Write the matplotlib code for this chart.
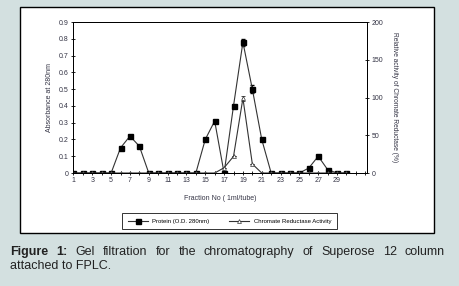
import matplotlib.pyplot as plt
from matplotlib.patches import Rectangle

plt.rcParams['font.family'] = ['Liberation Sans', 'DejaVu Sans']

# Datos
fracciones = list(range(1, 31))
proteina = [0, 0, 0, 0, 0, 0.15, 0.22, 0.16, 0, 0,
            0, 0, 0, 0, 0.20, 0.31, 0, 0.40, 0.78, 0.50,
            0.20, 0, 0, 0, 0, 0.03, 0.10, 0.02, 0, 0]
err_proteina = [0] * 18 + [0.02, 0.025, 0.01] + [0] * 9
actividad = [0] * 16 + [7, 22, 99, 12] + [0] * 10
err_actividad = [0] * 18 + [3] + [0] * 11

xticks = list(range(1, 33))
xlabels = [str(v) if v % 2 == 1 and v < 30 else '' for v in xticks]
yticks_izq = [0, 0.1, 0.2, 0.3, 0.4, 0.5, 0.6, 0.7, 0.8, 0.9]
yticks_der = [0, 50, 100, 150, 200]

fig = plt.figure(figsize=(4.59, 2.86), dpi=100)
fig.patch.set_facecolor('#d3e0e0')

# Recuadro blanco del grafico
caja = Rectangle((0.044, 0.185), 0.902, 0.79, transform=fig.transFigure,
                 facecolor='white', edgecolor='black', linewidth=1.0, zorder=-10)
fig.add_artist(caja)

ax = fig.add_axes([0.159, 0.395, 0.641, 0.528])
ax.set_facecolor('none')
ax2 = ax.twinx()

color_linea = '#333333'
l1 = ax.errorbar(fracciones, proteina, yerr=err_proteina, color=color_linea, linewidth=0.8,
                 marker='s', markersize=3.6, markerfacecolor='black', markeredgecolor='black',
                 ecolor='black', elinewidth=0.6, capsize=1.5)
l2 = ax2.errorbar(fracciones, actividad, yerr=err_actividad, color=color_linea, linewidth=0.8,
                  marker='^', markersize=2.8, markerfacecolor='white', markeredgecolor='#333333',
                  markeredgewidth=0.5, ecolor='black', elinewidth=0.6, capsize=1.5)

ax.set_xlim(0.95, 32.2)
ax.set_ylim(0, 0.9)
ax2.set_ylim(0, 200)
ax.set_xticks(xticks)
ax.set_xticklabels(xlabels)
ax.set_yticks(yticks_izq)
ax.set_yticklabels(['0'] + [f'{v:.1f}' for v in yticks_izq[1:]])
ax2.set_yticks(yticks_der)

for a in (ax, ax2):
    a.tick_params(direction='inout', length=3, width=0.6, labelsize=5,
                  colors='black', labelcolor='#333344', pad=1.5)
    for s in a.spines.values():
        s.set_linewidth(0.7)

ax.set_xlabel('Fraction No ( 1ml/tube)', fontsize=5, color='#333344', labelpad=8)
ax.set_ylabel('Absorbance at 280nm', fontsize=5, color='#333344', labelpad=4)
ax2.set_ylabel('Relative activity of Chromate Reductase (%)', fontsize=4.8,
               color='#333344', rotation=-90, labelpad=11)

leg = fig.legend([l1[0], l2[0]], ['Protein (O.D. 280nm)', 'Chromate Reductase Activity'],
                 loc='center', bbox_to_anchor=(0.5, 0.226), ncol=2, fontsize=4.3,
                 frameon=True, fancybox=False, edgecolor='black', handlelength=3.3,
                 columnspacing=3.3, borderpad=0.9, borderaxespad=0)
leg.get_frame().set_linewidth(0.7)

# Pie de figura justificado
fig.canvas.draw()
renderer = fig.canvas.get_renderer()
x0, x1 = 10 / 459, 445 / 459
linea1 = [('Figure', True), ('1:', True), ('Gel', False), ('filtration', False), ('for', False),
          ('the', False), ('chromatography', False), ('of', False), ('Superose', False),
          ('12', False), ('column', False)]
textos = [fig.text(0, 1 - 252 / 286, w, fontsize=9, fontweight='bold' if b else 'normal',
                   va='center', ha='left', color='#222222') for w, b in linea1]
anchos = [t.get_window_extent(renderer).width / fig.bbox.width for t in textos]
hueco = ((x1 - x0) - sum(anchos)) / (len(textos) - 1)
x = x0
for t, w in zip(textos, anchos):
    t.set_x(x)
    x += w + hueco
fig.text(x0, 1 - 266 / 286, 'attached to FPLC.', fontsize=9, va='center', ha='left',
         color='#222222')

fig.savefig('out.png', dpi=100, facecolor=fig.get_facecolor())
